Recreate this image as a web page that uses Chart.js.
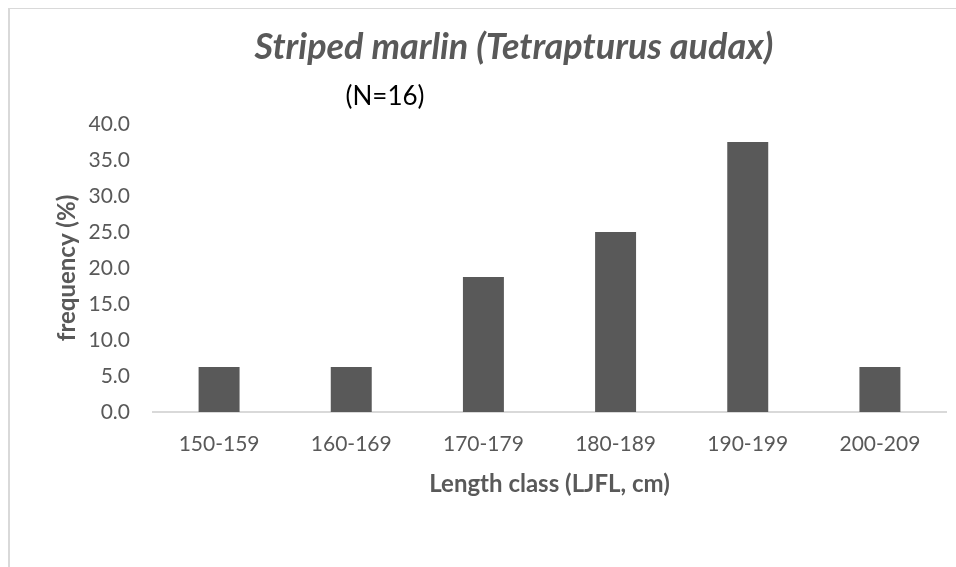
<!DOCTYPE html>
<html>
<head>
<meta charset="utf-8">
<script src="https://cdn.jsdelivr.net/npm/chart.js@4"></script>
<style>
  html, body { margin: 0; padding: 0; background: #fff; }
  body { width: 956px; height: 567px; overflow: hidden; position: relative; }
  #frame {
    position: absolute; left: 8px; top: 8px; width: 1000px; height: 600px;
    border-left: 2px solid #d9d9d9; border-top: 1px solid #d9d9d9;
  }
  #wrap { position: absolute; left: 0; top: 0; width: 956px; height: 567px; }
</style>
</head>
<body>
<div id="frame"></div>
<div id="wrap"><canvas id="chart"></canvas></div>
<script>
  // --- données ---
  const lengthClasses = ["150-159", "160-169", "170-179", "180-189", "190-199", "200-209"];
  const frequency = [6.25, 6.25, 18.75, 25.0, 37.5, 6.25];
  const chartTitle = "Striped marlin (Tetrapturus audax)";
  const sampleLabel = "(N=16)";
  const xTitle = "Length class (LJFL, cm)";
  const yTitle = "frequency (%)";

  const GREY = "#595959";
  const FONT = "Lato, 'Open Sans', sans-serif";

  // titre + effectif, dessinés à la main (décalés du centre comme dans Excel)
  const headerPlugin = {
    id: "header",
    afterDraw(chart) {
      const ctx = chart.ctx;
      ctx.save();
      ctx.textAlign = "center";
      ctx.textBaseline = "middle";
      ctx.fillStyle = GREY;
      ctx.font = "italic bold 36px " + FONT;
      ctx.fillText(chartTitle, 514, 47);
      ctx.fillStyle = "#000";
      ctx.font = "26px " + FONT;
      ctx.fillText(sampleLabel, 385, 97);
      ctx.restore();
    }
  };

  new Chart(document.getElementById("chart"), {
    type: "bar",
    data: {
      labels: lengthClasses,
      datasets: [{
        data: frequency,
        backgroundColor: GREY,
        borderWidth: 0,
        barPercentage: 0.62,
        categoryPercentage: 0.5
      }]
    },
    options: {
      responsive: true,
      maintainAspectRatio: false,
      animation: false,
      layout: { padding: { left: 0, right: 10, top: 124, bottom: 0 } },
      plugins: {
        legend: { display: false },
        tooltip: { enabled: false }
      },
      scales: {
        x: {
          afterFit: (s) => { s.height = 155; },
          grid: { display: false, drawTicks: false },
          border: { display: true, color: "#d9d9d9", width: 2 },
          ticks: { color: GREY, font: { family: FONT, size: 21 }, padding: 20, maxRotation: 0 },
          title: {
            display: true, text: xTitle, color: GREY,
            font: { family: FONT, size: 24, weight: "bold" },
            padding: { top: 0, bottom: 68 }
          }
        },
        y: {
          min: 0, max: 40,
          afterFit: (s) => { s.width = 153; },
          grid: { display: false, drawTicks: false },
          border: { display: false },
          ticks: {
            stepSize: 5, color: GREY, padding: 23,
            font: { family: FONT, size: 21 },
            callback: (v) => Number(v).toFixed(1)
          },
          title: {
            display: true, text: yTitle, color: GREY,
            font: { family: FONT, size: 24, weight: "bold" },
            padding: { top: 53, bottom: 0 }
          }
        }
      }
    },
    plugins: [headerPlugin]
  });
</script>
</body>
</html>
